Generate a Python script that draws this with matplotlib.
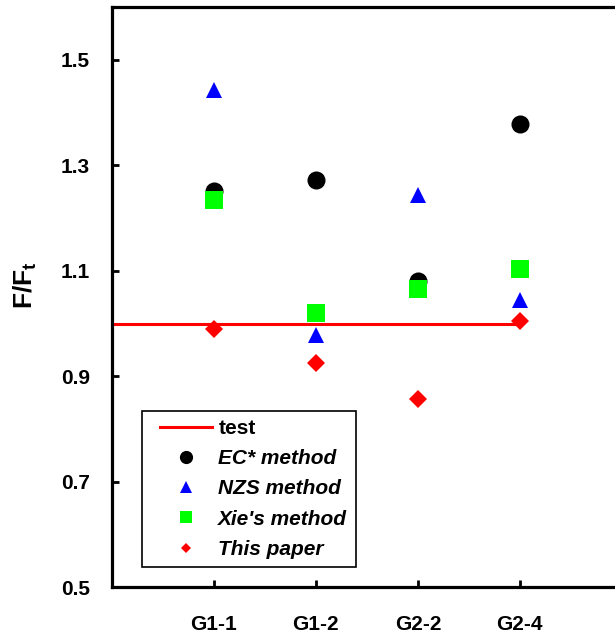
import matplotlib
matplotlib.use('Agg')
import matplotlib.pyplot as plt
from matplotlib.lines import Line2D
from matplotlib.legend_handler import HandlerLine2D

# specimen names and measured ratios F/Ft
specimens = ["G1-1", "G1-2", "G2-2", "G2-4"]
ec_vals = [1.251, 1.272, 1.080, 1.378]
nzs_vals = [1.444, 0.979, 1.243, 1.044]
xie_vals = [1.234, 1.020, 1.066, 1.103]
paper_vals = [0.989, 0.926, 0.857, 1.005]
test_x = [0, 4]
test_y = [1.0, 1.0]

plt.rcParams['font.family'] = 'Liberation Sans'
plt.rcParams['mathtext.fontset'] = 'custom'
plt.rcParams['mathtext.bf'] = 'Liberation Sans:bold'
plt.rcParams['mathtext.rm'] = 'Liberation Sans'


def main():
    fig = plt.figure(figsize=(6.15, 6.34), dpi=100)
    ax = fig.add_axes([0.1821, 0.0741, 0.829, 0.9144])
    xs = list(range(1, len(specimens) + 1))

    ax.plot(test_x, test_y, color='red', lw=2.2, zorder=2)
    ax.plot(xs, ec_vals, 'o', color='black', ms=13, mew=0, zorder=3)
    ax.plot(xs, nzs_vals, '^', color='blue', ms=11.5, mew=0, zorder=4)
    ax.plot(xs, xie_vals, 's', color='#00ff00', ms=12.7, mew=0, zorder=5)
    ax.plot(xs, paper_vals, 'D', color='red', ms=9.3, mew=0, zorder=6)

    ax.set_xlim(0, 5)
    ax.set_ylim(0.5, 1.6)
    ax.set_xticks(xs)
    ax.set_xticklabels(specimens)
    ax.set_yticks([0.5, 0.7, 0.9, 1.1, 1.3, 1.5])
    ax.set_yticklabels(['0.5', '0.7', '0.9', '1.1', '1.3', '1.5'])
    ax.tick_params(direction='in', length=5, width=2, labelsize=15,
                   top=False, right=False)
    ax.tick_params(axis='y', pad=16)
    ax.tick_params(axis='x', pad=20)
    for lab in ax.get_xticklabels() + ax.get_yticklabels():
        lab.set_fontweight('bold')
    for sp in ax.spines.values():
        sp.set_linewidth(2.3)

    fig.text(25 / 615, 1 - 285 / 634, r'$\mathbf{F/F_t}$', rotation=90,
             ha='center', va='center', fontsize=19)

    handles = [
        Line2D([], [], color='red', lw=2.2),
        Line2D([], [], marker='o', ls='none', color='black', ms=9.5, mew=0),
        Line2D([], [], marker='^', ls='none', color='blue', ms=8, mew=0),
        Line2D([], [], marker='s', ls='none', color='#00ff00', ms=9, mew=0),
        Line2D([], [], marker='D', ls='none', color='red', ms=5, mew=0),
    ]
    labels = ['test', 'EC* method', 'NZS method', "Xie's method", 'This paper']
    leg = ax.legend(handles, labels, loc='upper left',
                    bbox_to_anchor=(0.0594, 0.3043), borderaxespad=0,
                    prop=dict(family='Liberation Sans', weight='bold',
                              style='italic', size=15),
                    handler_map={Line2D: HandlerLine2D(xpad=0.45)},
                    handlelength=2.95, handletextpad=0.3, labelspacing=0.54,
                    borderpad=0.4, fancybox=False, framealpha=1,
                    edgecolor='black')
    leg.get_frame().set_linewidth(1.2)
    leg.get_texts()[0].set_style('normal')

    fig.savefig('out.png', dpi=100)


if __name__ == '__main__':
    main()
